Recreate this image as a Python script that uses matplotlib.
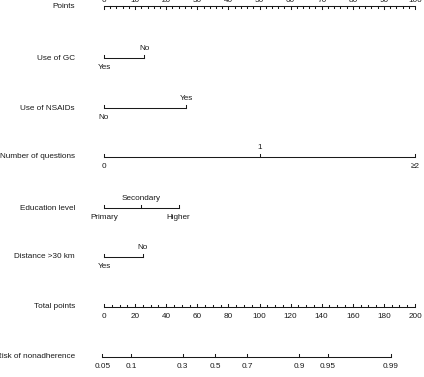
import numpy as np
import matplotlib
matplotlib.use("Agg")
import matplotlib.pyplot as plt

plt.rcParams['font.family'] = ['Liberation Sans', 'DejaVu Sans']

# points scale
points_major = list(range(0, 101, 10))
points_minor = list(range(0, 101, 2))

# predictors: level labels and their points
use_gc_levels = ["Yes", "No"]
use_gc_points = [0, 12.9]
nsaid_levels = ["No", "Yes"]
nsaid_points = [0, 26.4]
questions_levels = ["0", "1", "\u22652"]
questions_points = [0, 50, 100]
edu_levels = ["Primary", "Secondary", "Higher"]
edu_points = [0, 12, 24]
dist_levels = ["Yes", "No"]
dist_points = [0, 12.5]

# total points and risk
total_major = list(range(0, 201, 20))
total_minor = list(range(0, 201, 5))
risk_ticks = [0.05, 0.1, 0.3, 0.5, 0.7, 0.9, 0.95, 0.99]
risk_labels = ["0.05", "0.1", "0.3", "0.5", "0.7", "0.9", "0.95", "0.99"]
risk_tp_at_half = 71.4   # total points where risk = 0.5
risk_slope = 0.0406      # logit per total point

W, H = 424, 377
x0, px_per_pt = 104, 3.11
fs = 5.9
col = "#1a1a1a"
lw = 0.75

fig = plt.figure(figsize=(W / 100, H / 100), dpi=100)
ax = fig.add_axes([0, 0, 1, 1])
ax.set_xlim(-x0 / px_per_pt, (W - x0) / px_per_pt)
ax.set_ylim(H, 0)
ax.axis("off")

label_x = (75 - x0) / px_per_pt


def row_label(y, text):
    ax.text(label_x, y, text, ha="right", va="center", fontsize=fs, color=col)


# Points axis
y = 6
row_label(y, "Points")
ax.plot([0, 100], [y, y], color=col, lw=lw)
for t in points_minor:
    ln = 3 if t % 10 == 0 else 1.8
    ax.plot([t, t], [y, y + ln], color=col, lw=lw)
for t in points_major:
    ax.text(t, y - 6, str(t), ha="center", va="center", fontsize=fs, color=col)


def cat_row(y, name, levels, pts, above):
    row_label(y, name)
    ax.plot([min(pts), max(pts)], [y, y], color=col, lw=lw)
    for lev, p, up in zip(levels, pts, above):
        ax.plot([p, p], [y, y - 3], color=col, lw=lw)
        ax.text(p, y - 9.5 if up else y + 9.5, lev, ha="center", va="center",
                fontsize=fs, color=col)


cat_row(58, "Use of GC", use_gc_levels, use_gc_points, [False, True])
cat_row(108, "Use of NSAIDs", nsaid_levels, nsaid_points, [False, True])
cat_row(157, "Number of questions", questions_levels, questions_points, [False, True, False])
cat_row(208, "Education level", edu_levels, edu_points, [False, True, False])
cat_row(257, "Distance >30 km", dist_levels, dist_points, [False, True])

# Total points axis (200 total points span the 100-point width)
y = 307
row_label(y, "Total points")
ax.plot([0, 100], [y, y], color=col, lw=lw)
for t in total_minor:
    ln = 3 if t % 20 == 0 else 1.8
    ax.plot([t / 2, t / 2], [y, y - ln], color=col, lw=lw)
for t in total_major:
    ax.text(t / 2, y + 9.5, str(t), ha="center", va="center", fontsize=fs, color=col)

# Risk axis
y = 357
row_label(y, "Risk of nonadherence")
r = np.array(risk_ticks)
tp = risk_tp_at_half + np.log(r / (1 - r)) / risk_slope
xs = tp / 2
ax.plot([xs.min(), xs.max()], [y, y], color=col, lw=lw)
for xv, lab in zip(xs, risk_labels):
    ax.plot([xv, xv], [y, y - 3], color=col, lw=lw)
    ax.text(xv, y + 9.5, lab, ha="center", va="center", fontsize=fs, color=col)

fig.savefig("out.png", dpi=100)
